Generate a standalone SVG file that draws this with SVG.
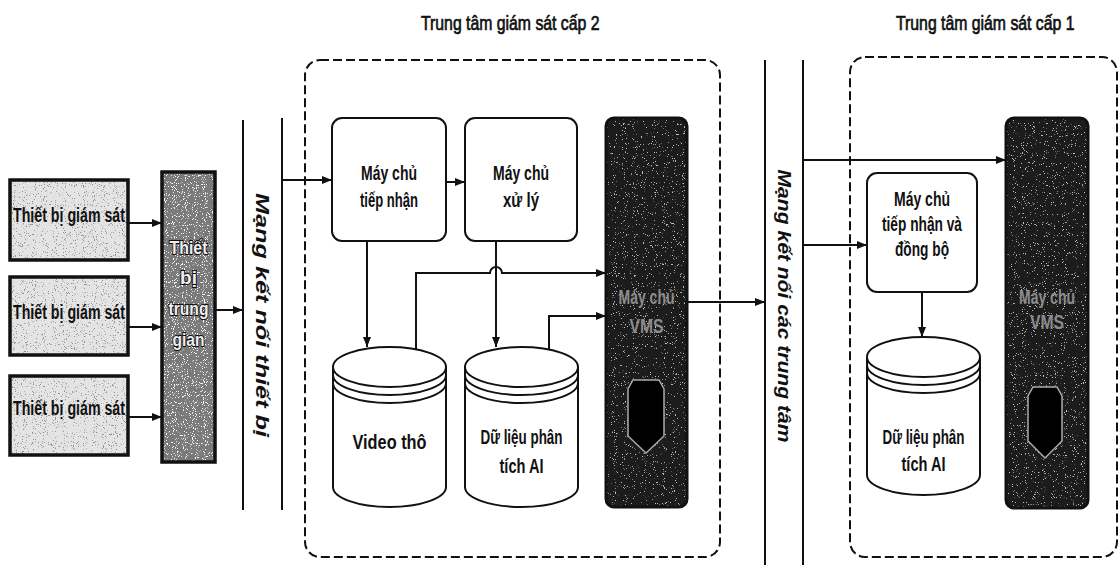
<svg xmlns="http://www.w3.org/2000/svg" width="1120" height="565" viewBox="0 0 1120 565">
<style>
  .t{font-family:"Liberation Sans",Arial,sans-serif;font-weight:bold;fill:#111;}
  .ttl{font-family:"Liberation Sans",Arial,sans-serif;font-weight:normal;fill:#111;stroke:#111;stroke-width:0.7;}
  .box{fill:#fff;stroke:#111;stroke-width:2;}
  .line{fill:none;stroke:#111;stroke-width:2;}
  .arr{fill:none;stroke:#111;stroke-width:2;marker-end:url(#ah);}
  .dash{fill:none;stroke:#111;stroke-width:2;stroke-dasharray:9 4;}
  .cyl{fill:#fff;stroke:#111;stroke-width:2;}
  .light{fill:#e4e4e4;}
  .vms{fill:#1a1a1a;}
  .vt{font-family:"Liberation Sans",Arial,sans-serif;font-weight:bold;fill:#8c8c8c;}
  .outl{font-family:"Liberation Sans",Arial,sans-serif;font-weight:bold;fill:#eee;stroke:#111;stroke-width:2;paint-order:stroke;}
  .vert{font-family:"Liberation Sans",Arial,sans-serif;font-weight:bold;font-style:italic;fill:#111;}
</style>
<defs>
  <marker id="ah" viewBox="0 0 10 8" markerWidth="10" markerHeight="8" refX="10" refY="4" orient="auto" markerUnits="userSpaceOnUse">
    <path d="M0,0 L10,4 L0,8 z" fill="#111"/>
  </marker>
  <filter id="spk" x="0" y="0" width="100%" height="100%">
    <feTurbulence type="fractalNoise" baseFrequency="0.9" numOctaves="2" seed="4" result="n"/>
    <feColorMatrix in="n" type="matrix" values="0 0 0 0 0.3  0 0 0 0 0.3  0 0 0 0 0.3  14 0 0 0 -8.8" result="d"/>
    <feComposite in="d" in2="SourceGraphic" operator="in" result="d2"/>
    <feMerge><feMergeNode in="SourceGraphic"/><feMergeNode in="d2"/></feMerge>
  </filter>
  <filter id="spkm" x="0" y="0" width="100%" height="100%">
    <feTurbulence type="fractalNoise" baseFrequency="0.9" numOctaves="2" seed="9" result="n"/>
    <feColorMatrix in="n" type="matrix" values="0 0 0 0 0.95  0 0 0 0 0.95  0 0 0 0 0.95  14 0 0 0 -8.6" result="d"/>
    <feComposite in="d" in2="SourceGraphic" operator="in" result="d2"/>
    <feMerge><feMergeNode in="SourceGraphic"/><feMergeNode in="d2"/></feMerge>
  </filter>
  <filter id="spkw" x="0" y="0" width="100%" height="100%">
    <feTurbulence type="fractalNoise" baseFrequency="0.9" numOctaves="2" seed="7" result="n"/>
    <feColorMatrix in="n" type="matrix" values="0 0 0 0 0.55  0 0 0 0 0.55  0 0 0 0 0.55  14 0 0 0 -9.4" result="d"/>
    <feComposite in="d" in2="SourceGraphic" operator="in" result="d2"/>
    <feMerge><feMergeNode in="SourceGraphic"/><feMergeNode in="d2"/></feMerge>
  </filter>
</defs>
<rect width="1120" height="565" fill="#fff"/>

<!-- titles -->
<text class="ttl" transform="translate(421,30) scale(0.79,1)" font-size="20">Trung tâm giám sát cấp 2</text>
<text class="ttl" transform="translate(896,30) scale(0.79,1)" font-size="20">Trung tâm giám sát cấp 1</text>

<!-- containers -->
<g id="center2">
  <rect class="dash" x="305" y="60" width="415" height="497" rx="15"/>
</g>
<g id="center1">
  <rect class="dash" x="850" y="57" width="267" height="500" rx="15"/>
</g>

<!-- networks -->
<g id="net-devices">
  <line class="line" x1="243" y1="120" x2="243" y2="510"/>
  <line class="line" x1="282" y1="118" x2="282" y2="510"/>
  <text class="vert" transform="translate(256,315) rotate(90)" text-anchor="middle" font-size="18" textLength="244" lengthAdjust="spacingAndGlyphs">Mạng kết nối thiết bị</text>
</g>
<g id="net-centers">
  <line class="line" x1="765" y1="60" x2="765" y2="565"/>
  <line class="line" x1="803" y1="60" x2="803" y2="565"/>
  <text class="vert" transform="translate(778,306) rotate(90)" text-anchor="middle" font-size="18" textLength="273" lengthAdjust="spacingAndGlyphs">Mạng kết nối các trung tâm</text>
</g>

<!-- devices -->
<g id="device1">
  <rect class="light" x="10" y="180" width="118" height="80" filter="url(#spk)"/>
  <rect x="10" y="180" width="118" height="80" fill="none" stroke="#111" stroke-width="3.5"/>
  <text class="t" x="13" y="222" font-size="20" textLength="112" lengthAdjust="spacingAndGlyphs">Thiết bị giám sát</text>
</g>
<g id="device2">
  <rect class="light" x="10" y="277" width="118" height="78" filter="url(#spk)"/>
  <rect x="10" y="277" width="118" height="78" fill="none" stroke="#111" stroke-width="3.5"/>
  <text class="t" x="13" y="319" font-size="20" textLength="112" lengthAdjust="spacingAndGlyphs">Thiết bị giám sát</text>
</g>
<g id="device3">
  <rect class="light" x="10" y="376" width="118" height="79" filter="url(#spk)"/>
  <rect x="10" y="376" width="118" height="79" fill="none" stroke="#111" stroke-width="3.5"/>
  <text class="t" x="13" y="415" font-size="20" textLength="112" lengthAdjust="spacingAndGlyphs">Thiết bị giám sát</text>
</g>
<g id="intermediate">
  <rect x="162" y="172" width="53" height="290" fill="#7a7a7a" filter="url(#spkm)"/>
  <rect x="162" y="172" width="53" height="290" fill="none" stroke="#111" stroke-width="3.5"/>
  <g text-anchor="middle" font-size="19">
    <text class="outl" x="188.5" y="254" textLength="38" lengthAdjust="spacingAndGlyphs">Thiết</text>
    <text class="outl" x="188.5" y="284">bị</text>
    <text class="outl" x="188.5" y="315" textLength="40" lengthAdjust="spacingAndGlyphs">trung</text>
    <text class="outl" x="188.5" y="346" textLength="32" lengthAdjust="spacingAndGlyphs">gian</text>
  </g>
</g>

<!-- center 2 nodes -->
<g id="recv2">
  <rect class="box" x="332" y="118" width="114" height="123" rx="10"/>
  <text class="t" x="389" y="180" font-size="20" text-anchor="middle" textLength="56" lengthAdjust="spacingAndGlyphs">Máy chủ</text>
  <text class="t" x="389" y="207" font-size="20" text-anchor="middle" textLength="58" lengthAdjust="spacingAndGlyphs">tiếp nhận</text>
</g>
<g id="proc2">
  <rect class="box" x="465" y="118" width="112" height="123" rx="10"/>
  <text class="t" x="521" y="180" font-size="20" text-anchor="middle" textLength="56" lengthAdjust="spacingAndGlyphs">Máy chủ</text>
  <text class="t" x="521" y="207" font-size="20" text-anchor="middle" textLength="36" lengthAdjust="spacingAndGlyphs">xử lý</text>
</g>
<g id="vms2">
  <rect class="vms" x="606" y="118" width="81" height="389" rx="8" filter="url(#spkw)"/>
  <rect x="606" y="118" width="81" height="389" rx="8" fill="none" stroke="#111" stroke-width="3"/>
  <text class="vt" x="646.5" y="304" font-size="20" text-anchor="middle" textLength="56" lengthAdjust="spacingAndGlyphs">Máy chủ</text>
  <text class="vt" x="646.5" y="333" font-size="20" text-anchor="middle" textLength="34" lengthAdjust="spacingAndGlyphs">VMS</text>
  <polygon points="633,380 659,380 664,389 664,436 646,453 628,436 628,389" fill="#000" stroke="#aaa" stroke-width="1.5"/>
</g>
<g id="raw-video" transform="translate(333,347)">
  <path class="cyl" d="M0,20 V140 A56.5,20 0 0 0 113,140 V20"/>
  <ellipse class="cyl" cx="56.5" cy="20" rx="56.5" ry="20"/>
  <path class="line" d="M0,28 A56.5,20 0 0 0 113,28 M0,36 A56.5,20 0 0 0 113,36"/>
  <text class="t" x="56.5" y="102" font-size="20" text-anchor="middle" textLength="74" lengthAdjust="spacingAndGlyphs">Video thô</text>
</g>
<g id="ai-data2" transform="translate(465,347)">
  <path class="cyl" d="M0,20 V140 A56.5,20 0 0 0 113,140 V20"/>
  <ellipse class="cyl" cx="56.5" cy="20" rx="56.5" ry="20"/>
  <path class="line" d="M0,28 A56.5,20 0 0 0 113,28 M0,36 A56.5,20 0 0 0 113,36"/>
  <text class="t" x="56.5" y="97" font-size="20" text-anchor="middle" textLength="82" lengthAdjust="spacingAndGlyphs">Dữ liệu phân</text>
  <text class="t" x="56.5" y="126" font-size="20" text-anchor="middle" textLength="44" lengthAdjust="spacingAndGlyphs">tích AI</text>
</g>

<!-- center 1 nodes -->
<g id="recv-sync1">
  <rect class="box" x="867" y="173" width="110" height="119" rx="10"/>
  <text class="t" x="922" y="206" font-size="20" text-anchor="middle" textLength="56" lengthAdjust="spacingAndGlyphs">Máy chủ</text>
  <text class="t" x="922" y="231" font-size="20" text-anchor="middle" textLength="80" lengthAdjust="spacingAndGlyphs">tiếp nhận và</text>
  <text class="t" x="922" y="256" font-size="20" text-anchor="middle" textLength="54" lengthAdjust="spacingAndGlyphs">đồng bộ</text>
</g>
<g id="vms1">
  <rect class="vms" x="1006" y="118" width="82" height="390" rx="8" filter="url(#spkw)"/>
  <rect x="1006" y="118" width="82" height="390" rx="8" fill="none" stroke="#111" stroke-width="3"/>
  <text class="vt" x="1047" y="304" font-size="20" text-anchor="middle" textLength="56" lengthAdjust="spacingAndGlyphs">Máy chủ</text>
  <text class="vt" x="1047" y="329" font-size="20" text-anchor="middle" textLength="34" lengthAdjust="spacingAndGlyphs">VMS</text>
  <polygon points="1033,387 1057,387 1062,396 1062,441 1045,458 1028,441 1028,396" fill="#000" stroke="#aaa" stroke-width="1.5"/>
</g>
<g id="ai-data1" transform="translate(867,337)">
  <path class="cyl" d="M0,20 V138 A56.5,20 0 0 0 113,138 V20"/>
  <ellipse class="cyl" cx="56.5" cy="20" rx="56.5" ry="20"/>
  <path class="line" d="M0,28 A56.5,20 0 0 0 113,28 M0,36 A56.5,20 0 0 0 113,36"/>
  <text class="t" x="56.5" y="107" font-size="20" text-anchor="middle" textLength="82" lengthAdjust="spacingAndGlyphs">Dữ liệu phân</text>
  <text class="t" x="56.5" y="134" font-size="20" text-anchor="middle" textLength="44" lengthAdjust="spacingAndGlyphs">tích AI</text>
</g>

<!-- connectors -->
<g id="connectors">
  <line class="arr" x1="128" y1="223" x2="162" y2="223"/>
  <line class="arr" x1="128" y1="327" x2="162" y2="327"/>
  <line class="arr" x1="128" y1="417" x2="162" y2="417"/>
  <line class="arr" x1="215" y1="310" x2="243" y2="310"/>
  <line class="arr" x1="282" y1="180" x2="332" y2="180"/>
  <line class="arr" x1="446" y1="182" x2="465" y2="182"/>
  <line class="arr" x1="367" y1="241" x2="367" y2="347"/>
  <line class="arr" x1="496" y1="241" x2="496" y2="347"/>
  <path class="arr" d="M416,349 V273 H490 A6,6 0 0 1 502,273 H606"/>
  <path class="arr" d="M549,350 V316 H606"/>
  <line class="arr" x1="687" y1="302" x2="765" y2="302"/>
  <line class="arr" x1="803" y1="160" x2="1006" y2="160"/>
  <line class="arr" x1="803" y1="245" x2="867" y2="245"/>
  <line class="arr" x1="922" y1="292" x2="922" y2="337"/>
</g>
</svg>
